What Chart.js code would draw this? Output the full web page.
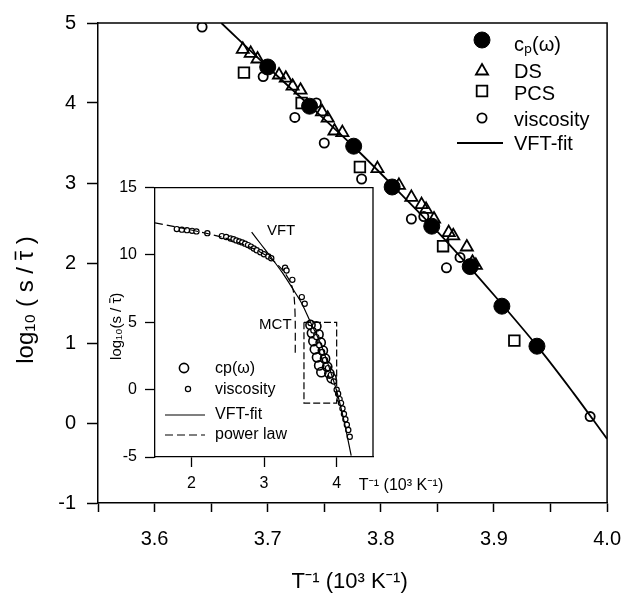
<!DOCTYPE html>
<html><head><meta charset="utf-8">
<script src="https://cdn.jsdelivr.net/npm/chart.js@4/dist/chart.umd.min.js"></script>
<style>
html,body{margin:0;padding:0;background:#fff;}
#wrap{position:relative;width:636px;height:594px;background:#fff;}
#main{position:absolute;left:0;top:0;width:636px;height:594px;}
#inset{position:absolute;left:100px;top:170px;width:360px;height:330px;}
</style></head><body>
<div id="wrap"><canvas id="main" width="636" height="594"></canvas><canvas id="inset" width="360" height="330"></canvas></div>
<script>
const FONT = "'Liberation Sans', 'Noto Sans', 'DejaVu Sans', Arial, sans-serif";

// ---------- main panel ----------
const mainXTicks  = [3.55, 3.60, 3.65, 3.70, 3.75, 3.80, 3.85, 3.90, 3.95, 4.00];
const mainXLabels = ['', '3.6', '', '3.7', '', '3.8', '', '3.9', '', '4.0'];
const mainYTicks  = [-1, 0, 1, 2, 3, 4, 5];
const mainYLabels = ['-1', '0', '1', '2', '3', '4', '5'];

const cpX = [3.700, 3.737, 3.776, 3.810, 3.845, 3.879, 3.907, 3.938];
const cpY = [4.45, 3.96, 3.46, 2.95, 2.46, 1.955, 1.46, 0.96];

const dsX = [3.678, 3.685, 3.691, 3.710, 3.716, 3.722, 3.729, 3.748, 3.753, 3.759, 3.766, 3.797, 3.816, 3.827, 3.836, 3.840, 3.847, 3.860, 3.864, 3.876, 3.881, 3.884];
const dsY = [4.67, 4.62, 4.55, 4.35, 4.31, 4.21, 4.16, 3.89, 3.81, 3.65, 3.63, 3.18, 2.97, 2.82, 2.73, 2.67, 2.55, 2.38, 2.34, 2.20, 2.01, 1.97];

const pcsX = [3.679, 3.730, 3.7815, 3.855, 3.918];
const pcsY = [4.38, 4.00, 3.20, 2.21, 1.03];

const visX = [3.642, 3.696, 3.724, 3.743, 3.750, 3.783, 3.827, 3.838, 3.858, 3.870, 3.985];
const visY = [4.95, 4.33, 3.82, 4.00, 3.50, 3.05, 2.55, 2.58, 1.94, 2.07, 0.08];

const fitX = [3.659, 3.70, 3.74, 3.78, 3.82, 3.86, 3.90, 3.94, 3.97, 4.00];
const fitY = [5.00, 4.45, 3.93, 3.40, 2.83, 2.24, 1.60, 0.93, 0.38, -0.20];

// ---------- inset ----------
const inXTicks  = [2, 3, 4];
const inXLabels = ['2', '3', '4'];
const inYTicks  = [-5, 0, 5, 10, 15];
const inYLabels = ['-5', '0', '5', '10', '15'];

const inVisX = [1.80, 1.87, 1.94, 2.01, 2.07, 2.22, 2.42, 2.48, 2.54, 2.58, 2.62, 2.66, 2.70, 2.74, 2.78, 2.82, 2.86, 2.90, 2.95, 3.00, 3.06, 3.10, 3.29, 3.31, 3.39, 3.52, 3.56, 3.64, 3.68, 3.72, 3.76, 3.80, 3.84, 3.88, 3.92, 3.96, 4.00, 4.02, 4.04, 4.06, 4.08, 4.10, 4.12, 4.14, 4.16, 4.18];
const inVisY = [11.92, 11.88, 11.84, 11.79, 11.75, 11.62, 11.40, 11.33, 11.22, 11.17, 11.08, 11.00, 10.93, 10.84, 10.73, 10.62, 10.48, 10.35, 10.20, 10.05, 9.88, 9.75, 9.05, 8.85, 8.15, 6.87, 6.38, 4.95, 4.40, 3.90, 3.30, 2.80, 2.20, 1.60, 1.10, 0.60, 0.00, -0.30, -0.70, -1.00, -1.40, -1.80, -2.20, -2.60, -3.00, -3.50];

const inCpX = [3.64, 3.66, 3.68, 3.70, 3.73, 3.76, 3.79, 3.72, 3.75, 3.78, 3.81, 3.84, 3.87, 3.90, 3.93];
const inCpY = [4.80, 4.20, 3.60, 3.00, 2.40, 1.80, 1.30, 4.70, 4.10, 3.50, 2.90, 2.30, 1.70, 1.20, 0.85];

const inVftX = [2.83, 2.95, 3.10, 3.25, 3.40, 3.52, 3.64, 3.78, 3.90, 4.00, 4.10, 4.20];
const inVftY = [11.70, 10.85, 9.80, 8.70, 7.45, 6.40, 5.00, 3.40, 1.60, -0.10, -2.30, -4.90];

const inPlX = [1.50, 2.00, 2.50, 2.90, 3.10, 3.26, 3.35, 3.40, 3.42, 3.43, 3.43];
const inPlY = [12.38, 11.85, 11.20, 10.35, 9.70, 8.85, 8.10, 7.40, 6.50, 5.00, 2.70];

const boxX = [3.55, 4.00, 4.00, 3.55, 3.55];
const boxY = [5, 5, -1, -1, 5];

// ---------- helpers ----------
const pts = (xs, ys) => xs.map((x, i) => ({x: x, y: ys[i]}));

function axis(min, max, ticks, labels, o) {
  return {
    type: 'linear', min: min, max: max,
    afterBuildTicks: s => { s.ticks = ticks.map(v => ({value: v})); },
    afterFit: s => { if (s.isHorizontal()) s.height = o.size; else s.width = o.size; },
    ticks: { callback: (v, i) => labels[i], color: '#000', font: {family: FONT, size: o.font},
             padding: o.pad, autoSkip: false, maxRotation: 0, minRotation: 0 },
    grid: { display: true, drawOnChartArea: false, drawTicks: true, tickLength: o.tl,
            tickWidth: o.lw, tickColor: '#000' },
    border: { display: true, color: '#000', width: o.lw }
  };
}

function frame(lw) {
  return { id: 'frame' + lw, afterDatasetsDraw(chart) {
    const a = chart.chartArea, c = chart.ctx;
    c.save(); c.strokeStyle = '#000'; c.lineWidth = lw;
    c.beginPath(); c.moveTo(a.left, a.top); c.lineTo(a.right, a.top); c.lineTo(a.right, a.bottom); c.stroke();
    c.restore();
  }};
}

function marker(c, ds, x, y) {
  c.save();
  c.fillStyle = ds.pointBackgroundColor || ds.backgroundColor;
  c.strokeStyle = ds.pointBorderColor || ds.borderColor;
  c.lineWidth = ds.pointBorderWidth != null ? ds.pointBorderWidth : ds.borderWidth;
  Chart.helpers.drawPoint(c, {pointStyle: ds.pointStyle, radius: ds.pointRadius, borderWidth: c.lineWidth, rotation: 0}, x, y);
  c.restore();
}
function legendLine(c, ds, x1, x2, y) {
  c.save(); c.strokeStyle = ds.borderColor; c.lineWidth = ds.borderWidth;
  c.setLineDash(ds.borderDash || []);
  c.beginPath(); c.moveTo(x1, y); c.lineTo(x2, y); c.stroke(); c.restore();
}
// vertical axis title with a bar over tau; (cx, cy) is the centre of the text block
function tauTitle(c, pre, post, size, cx, cy, lw) {
  c.save();
  c.font = size + 'px ' + FONT; c.fillStyle = '#000'; c.strokeStyle = '#000';
  c.textAlign = 'left'; c.textBaseline = 'alphabetic';
  const full = pre + 'τ' + post;
  const W = c.measureText(full).width;
  const b = 0.26 * size;
  c.translate(cx, cy); c.rotate(-Math.PI / 2);
  const x0 = -W / 2;
  c.fillText(full, x0, b);
  const wp = c.measureText(pre).width, wt = c.measureText('τ').width;
  c.lineWidth = lw;
  c.beginPath(); c.moveTo(x0 + wp + 0.5, b - 0.74 * size); c.lineTo(x0 + wp + wt - 0.5, b - 0.74 * size); c.stroke();
  c.restore();
}

// ---------- main chart ----------
const mainDatasets = [
  {label: 'VFT-fit', data: pts(fitX, fitY), showLine: true, borderColor: '#000', borderWidth: 1.8,
   pointRadius: 0, tension: 0.35, backgroundColor: '#000'},
  {label: 'cₚ(ω)', data: pts(cpX, cpY), pointStyle: 'circle', pointRadius: 8, backgroundColor: '#000', borderColor: '#000', borderWidth: 1},
  {label: 'DS', data: pts(dsX, dsY), pointStyle: 'triangle', pointRadius: 7, backgroundColor: 'rgba(0,0,0,0)', borderColor: '#000', borderWidth: 1.8},
  {label: 'PCS', data: pts(pcsX, pcsY), pointStyle: 'rect', pointRadius: 7.5, backgroundColor: 'rgba(0,0,0,0)', borderColor: '#000', borderWidth: 1.8},
  {label: 'viscosity', data: pts(visX, visY), pointStyle: 'circle', pointRadius: 4.6, backgroundColor: 'rgba(0,0,0,0)', borderColor: '#000', borderWidth: 1.8}
];

const mainDeco = { id: 'mainDeco', afterDraw(chart) {
  const c = chart.ctx, a = chart.chartArea;
  const ds = chart.data.datasets;
  const mx = 482, tx = 514;
  const rows = [[1, 40, 45], [2, 71, 72], [3, 91, 94], [4, 118, 120]];
  c.save();
  c.font = '20px ' + FONT; c.fillStyle = '#000'; c.textBaseline = 'middle'; c.textAlign = 'left';
  rows.forEach(r => { marker(c, ds[r[0]], mx, r[1]); c.fillText(ds[r[0]].label, tx, r[2]); });
  legendLine(c, ds[0], 457, 503, 143);
  c.fillText(ds[0].label, tx, 144);
  c.textAlign = 'center';
  c.font = '22px ' + FONT;
  c.fillText('T⁻¹ (10³ K⁻¹)', (a.left + a.right) / 2 - 3, 582);
  c.restore();
  tauTitle(c, 'log₁₀ ( s / ', ' )', 24, 27, 300, 1.6);
}};

new Chart(document.getElementById('main'), {
  type: 'scatter',
  data: { datasets: mainDatasets },
  options: {
    responsive: false, animation: false, devicePixelRatio: 1,
    layout: { padding: {left: 0, right: 17, top: 15, bottom: 0} },
    plugins: { legend: {display: false}, tooltip: {enabled: false} },
    scales: {
      x: axis(3.55, 4.0, mainXTicks, mainXLabels, {size: 91, font: 20, pad: 15, tl: 9, lw: 1.5}),
      y: axis(-1, 5, mainYTicks, mainYLabels, {size: 98, font: 20, pad: 11, tl: 11, lw: 1.5})
    }
  },
  plugins: [frame(1.5), mainDeco]
});

// ---------- inset chart ----------
const inDatasets = [
  {label: 'VFT-fit', data: pts(inVftX, inVftY), showLine: true, borderColor: '#000', borderWidth: 1.2, pointRadius: 0, tension: 0.3},
  {label: 'power law', data: pts(inPlX, inPlY), showLine: true, borderColor: '#000', borderWidth: 1.2, borderDash: [8, 4], pointRadius: 0, tension: 0.3},
  {label: 'box', data: pts(boxX, boxY), showLine: true, borderColor: '#000', borderWidth: 1.2, borderDash: [7, 3], pointRadius: 0, tension: 0},
  {label: 'viscosity', data: pts(inVisX, inVisY), pointStyle: 'circle', pointRadius: 2.6, backgroundColor: '#fff', borderColor: '#000', borderWidth: 1.2},
  {label: 'cp(ω)', data: pts(inCpX, inCpY), pointStyle: 'circle', pointRadius: 4.6, backgroundColor: 'rgba(0,0,0,0)', borderColor: '#000', borderWidth: 1.6}
];

const inDeco = { id: 'inDeco', afterDraw(chart) {
  const c = chart.ctx, a = chart.chartArea, xs = chart.scales.x, ys = chart.scales.y;
  const ds = chart.data.datasets;
  c.save();
  c.fillStyle = '#000'; c.textBaseline = 'middle'; c.textAlign = 'left';
  c.font = '15px ' + FONT;
  c.fillText('VFT', xs.getPixelForValue(3.04), ys.getPixelForValue(11.8));
  c.textAlign = 'right';
  c.fillText('MCT', xs.getPixelForValue(3.38), ys.getPixelForValue(4.8));
  c.textAlign = 'left'; c.font = '16px ' + FONT;
  const tx = 115;
  marker(c, ds[4], 84, 198); c.fillText('cp(ω)', tx, 199);
  marker(c, ds[3], 88, 219); c.fillText('viscosity', tx, 220);
  legendLine(c, ds[0], 65, 105, 245); c.fillText('VFT-fit', tx, 245);
  legendLine(c, ds[1], 65, 105, 265); c.fillText('power law', tx, 265);
  c.font = '16px ' + FONT;
  c.fillText('T⁻¹ (10³ K⁻¹)', xs.getPixelForValue(4) + 22, 316);
  c.restore();
  tauTitle(c, 'log₁₀(s / ', ')', 15, 17, (a.top + a.bottom) / 2 + 4, 1.1);
}};

new Chart(document.getElementById('inset'), {
  type: 'scatter',
  data: { datasets: inDatasets },
  options: {
    responsive: false, animation: false, devicePixelRatio: 1,
    layout: { padding: {left: 0, right: 87, top: 17, bottom: 0} },
    plugins: { legend: {display: false}, tooltip: {enabled: false} },
    scales: {
      x: axis(1.5, 4.5, inXTicks, inXLabels, {size: 43, font: 16, pad: 7, tl: 10, lw: 1.3}),
      y: axis(-5, 15, inYTicks, inYLabels, {size: 55, font: 16, pad: 8, tl: 10, lw: 1.3})
    }
  },
  plugins: [frame(1.3), inDeco]
});
</script>
</body></html>
